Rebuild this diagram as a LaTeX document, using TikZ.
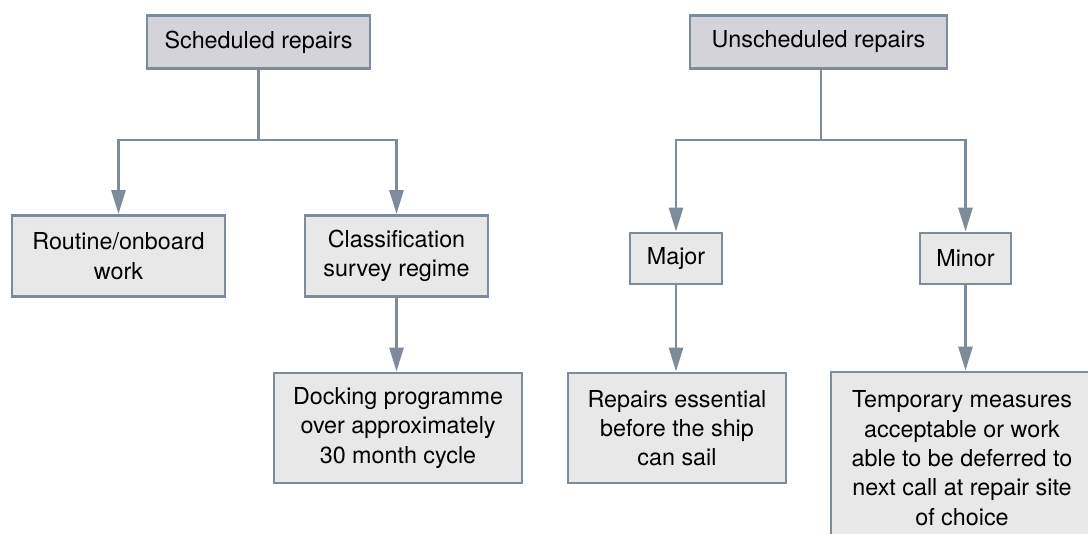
\documentclass[tikz,border=0pt]{standalone}
\usepackage{fontspec}
\setmainfont{TeX Gyre Heros}
\usepackage{xcolor}
\usepackage{tikz}
\usetikzlibrary{arrows.meta}
\definecolor{edgegrey}{HTML}{7D8B9B}
\definecolor{headfill}{HTML}{D4D3DA}
\definecolor{boxfill}{HTML}{E8E8E8}
\newlength\pxu
\setlength\pxu{0.75pt}
\newcommand\boxfont{\fontsize{17.5}{22}\selectfont}
\tikzstyle{repbox}=[draw=edgegrey,line width=2.2pt,fill=boxfill,align=center,font=\boxfont,inner sep=0pt]
\tikzstyle{headbox}=[repbox,fill=headfill]
\tikzstyle{linkhead}=[>/.tip={Triangle[length=18pt,width=10.5pt]}]
\tikzstyle{link}=[draw=edgegrey,line width=2.2pt,linkhead]
\begin{document}
\begin{tikzpicture}[x=1\pxu,y=-1\pxu]
	\clip[use as bounding box] (0,0) rectangle (1088,533);
	% scheduled side
	\node[headbox,minimum width=223\pxu,minimum height=53\pxu] (sched) at (258.5,42) {Scheduled repairs};
	\node[repbox,minimum width=213\pxu,minimum height=81\pxu] (routine) at (118.5,256) {Routine/onboard\\work};
	\node[repbox,minimum width=183\pxu,minimum height=81\pxu] (classif) at (396.5,256) {Classification\\survey regime};
	\node[repbox,minimum width=248\pxu,minimum height=110\pxu] (docking) at (398,428) {Docking programme\\over approximately\\30 month cycle};
	% unscheduled side
	\node[headbox,minimum width=257\pxu,minimum height=53\pxu] (unsched) at (818.5,42) {Unscheduled repairs};
	\node[repbox,minimum width=92\pxu,minimum height=51\pxu] (major) at (676,258.5) {Major};
	\node[repbox,minimum width=91\pxu,minimum height=51\pxu] (minor) at (965.5,258.5) {Minor};
	\node[repbox,minimum width=218\pxu,minimum height=110\pxu] (essential) at (677,428) {Repairs essential\\before the ship\\can sail};
	\node[repbox,minimum width=262\pxu,minimum height=172\pxu] (temporary) at (962,458) {Temporary measures\\acceptable or work\\able to be deferred to\\next call at repair site\\of choice};
	\coordinate (jsched) at (258.5,140);
	\coordinate (junsched) at (821,140);
	\draw[link] (sched) -- (jsched);
	\draw[link,->] (jsched) -| (routine);
	\draw[link,->] (jsched) -| (classif);
	\draw[link,->] (classif.south) -- (classif.south |- docking.north);
	\draw[link] (unsched.south -| junsched) -- (junsched);
	\draw[link,->] (junsched) -| (major);
	\draw[link,->] (junsched) -| (minor);
	\draw[link,->] (major.south) -- (major.south |- essential.north);
	\draw[link,->] (minor.south) -- (minor.south |- temporary.north);
\end{tikzpicture}
\end{document}
